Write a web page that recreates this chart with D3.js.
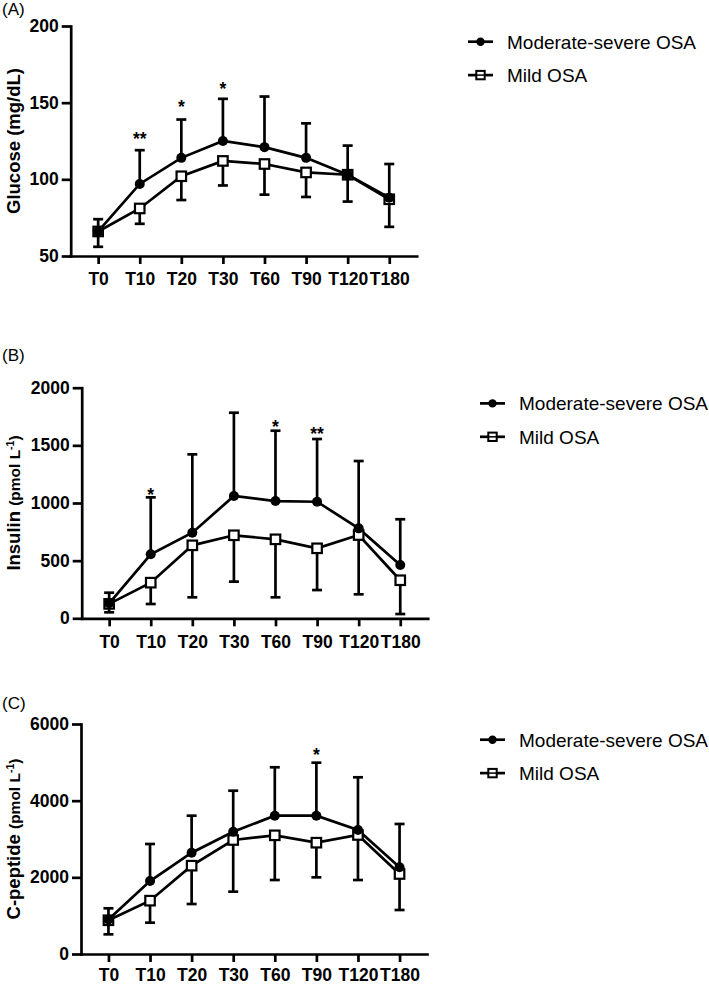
<!DOCTYPE html>
<html>
<head>
<meta charset="utf-8">
<script src="https://cdn.jsdelivr.net/npm/d3@7"></script>
<style>
  html, body { margin: 0; padding: 0; background: #fff; }
  svg { display: block; }
  text { font-family: "Liberation Sans", Arial, Helvetica, sans-serif; fill: #000; }
</style>
</head>
<body>
<svg id="chart" width="709" height="985"></svg>
<script>
// ---------------- DATA ----------------
const times = ["T0", "T10", "T20", "T30", "T60", "T90", "T120", "T180"];
const seriesNames = ["Moderate-severe OSA", "Mild OSA"];

// (A) Glucose (mg/dL)
const glucoseTicks = [50, 100, 150, 200];
const glucoseModMean  = [66, 97, 114, 125, 121, 114, 103, 88];
const glucoseModUpper = [74, 119, 139, 152.5, 154, 136.5, 122, 110];
const glucoseMildMean  = [66, 81, 102, 112, 110, 104.5, 103, 87];
const glucoseMildLower = [56, 71, 86.5, 96, 90, 88.5, 85.5, 69];
const glucoseStars = [
  { t: "T10", s: "**", v: 129 },
  { t: "T20", s: "*",  v: 150 },
  { t: "T30", s: "*",  v: 161.5 }
];

// (B) Insulin (pmol L-1)
const insulinTicks = [0, 500, 1000, 1500, 2000];
const insulinModMean  = [130, 555, 742, 1061, 1017, 1011, 780, 462];
const insulinModUpper = [222, 1049, 1422, 1783, 1627, 1555, 1364, 859];
const insulinMildMean  = [125, 309, 633, 720, 685, 607, 722, 330];
const insulinMildLower = [52, 124, 182, 318, 182, 245, 208, 37];
const insulinStars = [
  { t: "T10", s: "*",  v: 1104 },
  { t: "T60", s: "*",  v: 1696 },
  { t: "T90", s: "**", v: 1633 }
];

// (C) C-peptide (pmol L-1)
const cpepTicks = [0, 2000, 4000, 6000];
const cpepModMean  = [900, 1904, 2643, 3191, 3608, 3608, 3235, 2261];
const cpepModUpper = [1192, 2870, 3608, 4260, 4871, 4991, 4610, 3392];
const cpepMildMean  = [880, 1391, 2304, 2974, 3096, 2904, 3105, 2087];
const cpepMildLower = [513, 817, 1304, 1626, 1930, 2000, 1930, 1148];
const cpepStars = [
  { t: "T90", s: "*", v: 5304 }
];

// ---------------- LAYOUT ----------------
const panels = [
  { label: "(A)", labelY: 15, left: 70.7, top: 26, bottom: 256, xPad: 9,
    titleMain: "Glucose (mg/dL)", titleUnit: null,
    ticks: glucoseTicks, modMean: glucoseModMean, modUpper: glucoseModUpper,
    mildMean: glucoseMildMean, mildLower: glucoseMildLower, stars: glucoseStars,
    legendX: 468 },
  { label: "(B)", labelY: 360.5, left: 81.7, top: 387.7, bottom: 618.3, xPad: 9,
    titleMain: "Insulin", titleUnit: "pmol L",
    ticks: insulinTicks, modMean: insulinModMean, modUpper: insulinModUpper,
    mildMean: insulinMildMean, mildLower: insulinMildLower, stars: insulinStars,
    legendX: 480 },
  { label: "(C)", labelY: 708.5, left: 81, top: 724, bottom: 954, xPad: 6.5,
    titleMain: "C-peptide", titleUnit: "pmol L",
    ticks: cpepTicks, modMean: cpepModMean, modUpper: cpepModUpper,
    mildMean: cpepMildMean, mildLower: cpepMildLower, stars: cpepStars,
    legendX: 480 }
];

const svg = d3.select("#chart");
const SW = 2.7;
const axisLen = 346;

panels.forEach(p => {
  const g = svg.append("g");
  const x = d3.scalePoint().domain(times).range([p.left, p.left + axisLen]).padding(0.66);
  const y = d3.scaleLinear().domain([p.ticks[0], p.ticks[p.ticks.length - 1]]).range([p.bottom, p.top]);

  // panel label
  g.append("text").attr("x", 2).attr("y", p.labelY)
    .style("font-size", "17px").text(p.label);

  // y title
  const tt = g.append("text")
    .attr("transform", `translate(19.5,${(p.top + p.bottom) / 2}) rotate(-90)`)
    .attr("text-anchor", "middle")
    .style("font-weight", "bold");
  if (p.titleUnit) {
    tt.append("tspan").style("font-size", "18.5px").text(p.titleMain + " ");
    tt.append("tspan").style("font-size", "15.5px").text("(" + p.titleUnit);
    tt.append("tspan").style("font-size", "10.5px").attr("dy", "-6").text("-1");
    tt.append("tspan").style("font-size", "15.5px").attr("dy", "6").text(")");
  } else {
    tt.style("font-size", "18.5px").text(p.titleMain);
  }

  // axes
  const ya = g.append("g").attr("transform", `translate(${p.left},0)`)
    .call(d3.axisLeft(y).tickValues(p.ticks).tickSize(9).tickPadding(3).tickSizeOuter(0).tickFormat(d3.format("d")));
  const xa = g.append("g").attr("transform", `translate(0,${p.bottom})`)
    .call(d3.axisBottom(x).tickSize(8).tickPadding(p.xPad).tickSizeOuter(0));
  [ya, xa].forEach(a => {
    a.selectAll("path.domain").attr("stroke", "#000").attr("stroke-width", SW).attr("stroke-linecap", "square");
    a.selectAll(".tick line").attr("stroke", "#000").attr("stroke-width", SW);
    a.selectAll(".tick text").style("font-size", "17.5px").style("font-weight", "bold")
      .style("font-family", '"Liberation Sans", Arial, sans-serif').attr("fill", "#000");
  });

  const cap = 5;
  times.forEach((t, i) => {
    const cx = x(t);
    // mild (down)
    g.append("line").attr("x1", cx).attr("x2", cx)
      .attr("y1", y(p.mildMean[i])).attr("y2", y(p.mildLower[i]))
      .attr("stroke", "#000").attr("stroke-width", SW);
    g.append("line").attr("x1", cx - cap).attr("x2", cx + cap)
      .attr("y1", y(p.mildLower[i])).attr("y2", y(p.mildLower[i]))
      .attr("stroke", "#000").attr("stroke-width", SW);
    // moderate-severe (up)
    g.append("line").attr("x1", cx).attr("x2", cx)
      .attr("y1", y(p.modMean[i])).attr("y2", y(p.modUpper[i]))
      .attr("stroke", "#000").attr("stroke-width", SW);
    g.append("line").attr("x1", cx - cap).attr("x2", cx + cap)
      .attr("y1", y(p.modUpper[i])).attr("y2", y(p.modUpper[i]))
      .attr("stroke", "#000").attr("stroke-width", SW);
  });

  // lines
  const line = d3.line().x((d, i) => x(times[i])).y(d => y(d));
  g.append("path").datum(p.mildMean).attr("d", line)
    .attr("fill", "none").attr("stroke", "#000").attr("stroke-width", SW);
  g.append("path").datum(p.modMean).attr("d", line)
    .attr("fill", "none").attr("stroke", "#000").attr("stroke-width", SW);

  // markers
  const sq = 9.5;
  g.selectAll("rect.mild").data(p.mildMean).enter().append("rect")
    .attr("x", (d, i) => x(times[i]) - sq / 2).attr("y", d => y(d) - sq / 2)
    .attr("width", sq).attr("height", sq)
    .attr("fill", "#fff").attr("stroke", "#000").attr("stroke-width", 2.2);
  g.selectAll("circle.mod").data(p.modMean).enter().append("circle")
    .attr("cx", (d, i) => x(times[i])).attr("cy", d => y(d)).attr("r", 5)
    .attr("fill", "#000");

  // significance stars
  p.stars.forEach(s => {
    g.append("text").attr("x", x(s.t)).attr("y", y(s.v) + 10)
      .attr("text-anchor", "middle")
      .style("font-size", "17.5px").style("font-weight", "bold").text(s.s);
  });

  // legend
  const lx = p.legendX, ly1 = p.top + 15.7, ly2 = ly1 + 33.4;
  const lg = g.append("g");
  [ly1, ly2].forEach((ly, k) => {
    lg.append("line").attr("x1", lx).attr("x2", lx + 25).attr("y1", ly).attr("y2", ly)
      .attr("stroke", "#000").attr("stroke-width", SW);
    if (k === 0) {
      lg.append("circle").attr("cx", lx + 12.5).attr("cy", ly).attr("r", 4.2).attr("fill", "#000");
    } else {
      lg.append("rect").attr("x", lx + 12.5 - 4.2).attr("y", ly - 4.2).attr("width", 8.4).attr("height", 8.4)
        .attr("fill", "#fff").attr("stroke", "#000").attr("stroke-width", 2);
      lg.append("line").attr("x1", lx + 8.3).attr("x2", lx + 16.7).attr("y1", ly).attr("y2", ly)
        .attr("stroke", "#000").attr("stroke-width", 1.5);
    }
    lg.append("text").attr("x", lx + 39).attr("y", ly + 6.8)
      .style("font-size", "19px").text(seriesNames[k]);
  });
});
</script>
</body>
</html>
